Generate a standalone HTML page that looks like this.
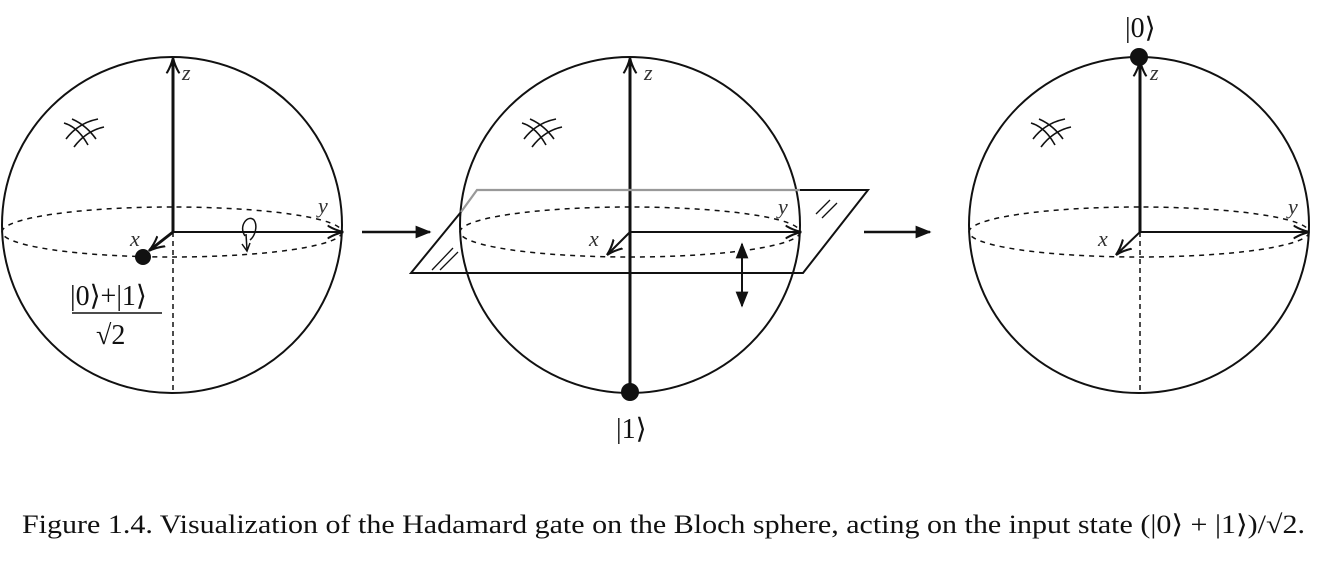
<!DOCTYPE html>
<html><head><style>
body{margin:0;background:#fff;width:1342px;height:567px;overflow:hidden}
svg{position:absolute;left:0;top:0}
</style></head><body>
<svg width="1342" height="567" viewBox="0 0 1342 567" font-family="Liberation Serif,serif">
<defs>
<marker id="a" viewBox="0 0 10 10" refX="9" refY="5" markerWidth="16" markerHeight="16" markerUnits="userSpaceOnUse" orient="auto"><path d="M0,1 Q5,4 10,5 Q5,6 0,9" fill="none" stroke="#111" stroke-width="1.3"/></marker>
<marker id="f" viewBox="0 0 10 10" refX="9" refY="5" markerWidth="16" markerHeight="16" markerUnits="userSpaceOnUse" orient="auto"><path d="M0,1 L10,5 L0,9 Z" fill="#111"/></marker>
<g id="h" fill="none" stroke="#111" stroke-width="1.6"><path d="M0,4 Q14,8 24,26 M8,0 Q22,6 32,20 M2,20 Q14,4 34,0 M10,28 Q22,12 40,8"/></g>
</defs>
<g stroke="#111" fill="none" stroke-width="2">
<ellipse cx="172" cy="225" rx="170" ry="168"/>
<ellipse cx="172" cy="232" rx="170" ry="25" stroke-dasharray="5,5" stroke-width="1.5"/>
<line x1="173" y1="232" x2="173" y2="393" stroke-dasharray="5,4" stroke-width="1.5"/>
<line x1="173" y1="232" x2="173" y2="59" stroke-width="3" marker-end="url(#a)"/>
<line x1="173" y1="232" x2="342" y2="232" stroke-width="2" marker-end="url(#a)"/>
<line x1="173" y1="232" x2="150" y2="250" stroke-width="3" marker-end="url(#a)"/>
<path d="M245,236 C238,226 248,214 254,220 C258,226 255,236 250,240" stroke-width="1.5"/>
<path d="M246,234 L247,250" stroke-width="1.5"/><path d="M242,244 L247,251 L250,243" stroke-width="1.5"/>
<line x1="630" y1="392" x2="630" y2="59" stroke-width="3" marker-end="url(#a)"/>
<ellipse cx="630" cy="225" rx="170" ry="168"/>
<ellipse cx="630" cy="232" rx="170" ry="25" stroke-dasharray="5,5" stroke-width="1.5"/>
<line x1="630" y1="232" x2="800" y2="232" marker-end="url(#a)"/>
<line x1="630" y1="232" x2="608" y2="254" marker-end="url(#a)"/>
<path d="M461,212 L477,190 L800,190" stroke="#999" stroke-width="2.2"/>
<path d="M461,212 L411,273 L803,273 L868,190 L800,190" stroke-width="2"/>
<path d="M432,270 L453,248 M440,270 L458,252 M816,214 L830,200 M822,218 L837,203" stroke-width="1.3"/>
<line x1="742" y1="272" x2="742" y2="244" marker-end="url(#f)"/>
<line x1="742" y1="272" x2="742" y2="306" marker-end="url(#f)"/>
<ellipse cx="1139" cy="225" rx="170" ry="168"/>
<ellipse cx="1139" cy="232" rx="170" ry="25" stroke-dasharray="5,5" stroke-width="1.5"/>
<line x1="1140" y1="232" x2="1140" y2="393" stroke-dasharray="5,4" stroke-width="1.5"/>
<line x1="1140" y1="232" x2="1140" y2="62" stroke-width="3" marker-end="url(#a)"/>
<line x1="1140" y1="232" x2="1308" y2="232" marker-end="url(#a)"/>
<line x1="1140" y1="232" x2="1117" y2="254" marker-end="url(#a)"/>
<line x1="362" y1="232" x2="430" y2="232" stroke-width="2.5" marker-end="url(#f)"/>
<line x1="864" y1="232" x2="930" y2="232" stroke-width="2.5" marker-end="url(#f)"/>
<line x1="72" y1="313" x2="162" y2="313" stroke-width="1.5"/>
</g>
<use href="#h" x="64" y="119"/>
<use href="#h" x="522" y="119"/>
<use href="#h" x="1031" y="119"/>
<g fill="#111">
<circle cx="143" cy="257" r="8"/>
<circle cx="630" cy="392" r="9"/>
<circle cx="1139" cy="57" r="9"/>
</g>
<g font-style="italic" font-size="22" fill="#333">
<text x="182" y="80">z</text><text x="318" y="213">y</text><text x="130" y="246">x</text>
<text x="644" y="80">z</text><text x="778" y="214">y</text><text x="589" y="246">x</text>
<text x="1150" y="80">z</text><text x="1288" y="214">y</text><text x="1098" y="246">x</text>
</g>
<g font-size="28" fill="#111">
<text x="70" y="305">|0⟩+|1⟩</text>
<text x="96" y="344">√2</text>
<text x="616" y="438">|1⟩</text>
<text x="1125" y="37">|0⟩</text>
</g>
<text x="22" y="533" font-size="26" fill="#111" textLength="1283" lengthAdjust="spacingAndGlyphs">Figure 1.4. Visualization of the Hadamard gate on the Bloch sphere, acting on the input state (|0⟩ + |1⟩)/√2.</text>
</svg>
</body></html>
